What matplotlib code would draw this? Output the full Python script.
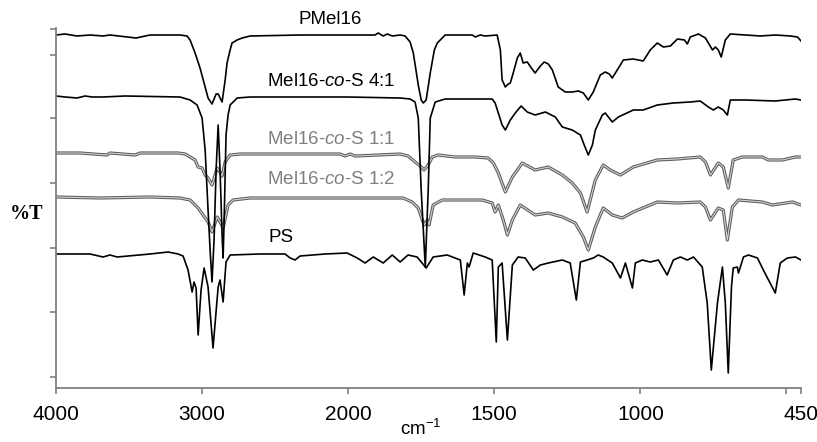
import numpy as np
import matplotlib
matplotlib.use("Agg")
import matplotlib.pyplot as plt
import matplotlib.patheffects as pe

plt.rcParams['font.family'] = ['Liberation Sans', 'DejaVu Sans']
plt.rcParams['mathtext.fontset'] = 'custom'
plt.rcParams['mathtext.rm'] = 'Liberation Sans'
plt.rcParams['mathtext.it'] = 'Liberation Sans:italic'

# spectra: (wavenumber cm-1, %T with arbitrary offsets)
pmel16 = [(4000, 353), (3938, 354), (3856, 352), (3767, 353), (3678, 352), (3630, 353), (3452, 350),
          (3356, 353), (3151, 353), (3103, 352), (3082, 348), (3048, 335), (3014, 320), (2979, 301),
          (2959, 290), (2932, 284), (2904, 294), (2890, 294), (2863, 286), (2842, 308), (2829, 325),
          (2808, 338), (2795, 345), (2760, 348), (2726, 350), (2671, 352), (2329, 353), (2007, 353),
          (1908, 353), (1897, 355), (1880, 352), (1866, 354), (1849, 352), (1822, 353), (1805, 352),
          (1788, 346), (1777, 335), (1760, 303), (1750, 288), (1743, 285), (1733, 288), (1719, 315),
          (1705, 338), (1695, 345), (1668, 353), (1575, 353), (1565, 351), (1548, 353), (1531, 352),
          (1490, 353), (1479, 338), (1473, 308), (1462, 301), (1452, 304), (1445, 305), (1435, 315),
          (1421, 330), (1411, 335), (1401, 325), (1387, 326), (1373, 320), (1360, 315), (1342, 322),
          (1329, 326), (1315, 324), (1301, 318), (1281, 301), (1257, 296), (1233, 296), (1212, 297),
          (1195, 295), (1178, 288), (1161, 296), (1137, 313), (1120, 316), (1106, 314), (1096, 310),
          (1079, 318), (1058, 328), (1024, 329), (990, 327), (966, 338), (942, 345), (921, 341),
          (897, 342), (873, 349), (849, 348), (839, 344), (829, 351), (801, 354), (777, 350),
          (753, 338), (743, 341), (733, 338), (723, 331), (709, 348), (692, 354), (640, 353),
          (589, 352), (538, 353), (486, 352), (462, 351), (450, 347)]

co_4_1 = [(4000, 292), (3938, 291), (3856, 290), (3801, 292), (3753, 291), (3678, 291), (3527, 292),
          (3151, 291), (3082, 288), (3034, 283), (3000, 270), (2979, 238), (2959, 178), (2945, 138),
          (2932, 106), (2918, 148), (2904, 218), (2890, 263), (2877, 218), (2863, 153), (2856, 130),
          (2849, 168), (2836, 253), (2822, 273), (2808, 283), (2760, 290), (2671, 291), (2329, 291),
          (2007, 291), (1822, 290), (1788, 289), (1771, 286), (1760, 270), (1750, 198), (1736, 121),
          (1726, 198), (1719, 270), (1702, 286), (1668, 289), (1582, 289), (1507, 289), (1497, 285),
          (1486, 275), (1473, 263), (1462, 258), (1445, 268), (1428, 275), (1408, 282), (1387, 276),
          (1360, 273), (1325, 276), (1291, 271), (1267, 261), (1233, 258), (1205, 253), (1192, 243),
          (1178, 233), (1164, 243), (1154, 258), (1130, 273), (1120, 275), (1096, 266), (1075, 271),
          (1024, 278), (990, 278), (942, 283), (887, 285), (829, 286), (795, 287), (767, 281),
          (750, 278), (733, 281), (716, 278), (702, 273), (692, 288), (640, 288), (538, 287),
          (469, 289), (450, 288)]

co_1_1 = [(4000, 235), (3836, 235), (3651, 233), (3630, 235), (3459, 233), (3425, 235), (3164, 235),
          (3116, 234), (3082, 231), (3048, 228), (3027, 221), (3000, 220), (2979, 213), (2959, 210),
          (2932, 203), (2911, 213), (2897, 220), (2877, 216), (2863, 212), (2842, 226), (2808, 233),
          (2740, 234), (2055, 234), (2021, 232), (1993, 234), (1976, 232), (1822, 234), (1795, 232),
          (1771, 226), (1753, 222), (1740, 218), (1726, 223), (1712, 231), (1692, 233), (1634, 231),
          (1565, 231), (1521, 230), (1503, 225), (1486, 215), (1462, 196), (1438, 211), (1404, 225),
          (1360, 218), (1315, 221), (1267, 213), (1233, 205), (1205, 195), (1182, 176), (1154, 208),
          (1127, 223), (1103, 218), (1068, 213), (1024, 221), (942, 228), (873, 229), (795, 231),
          (777, 226), (760, 213), (733, 225), (716, 221), (699, 200), (682, 228), (651, 231),
          (582, 231), (562, 228), (514, 228), (469, 231), (450, 231)]

co_1_2 = [(4000, 191), (3699, 190), (3356, 191), (3151, 190), (3082, 188), (3027, 180), (2993, 173),
          (2959, 166), (2932, 156), (2897, 171), (2877, 166), (2856, 160), (2822, 183), (2788, 188),
          (2671, 190), (1812, 190), (1781, 186), (1760, 180), (1740, 163), (1729, 168), (1723, 163),
          (1709, 183), (1678, 188), (1541, 188), (1507, 185), (1497, 176), (1486, 183), (1469, 168),
          (1455, 153), (1438, 168), (1411, 183), (1360, 173), (1315, 175), (1267, 171), (1223, 165),
          (1195, 151), (1178, 138), (1154, 161), (1127, 180), (1096, 173), (1062, 170), (1024, 176),
          (942, 186), (873, 185), (795, 186), (777, 181), (760, 168), (733, 180), (716, 178),
          (702, 148), (685, 181), (664, 188), (582, 186), (548, 183), (479, 186), (450, 183)]

ps = [(4000, 134), (3767, 134), (3678, 131), (3630, 133), (3582, 131), (3356, 134), (3233, 136),
      (3164, 134), (3130, 132), (3096, 118), (3068, 96), (3055, 106), (3041, 100), (3027, 53),
      (3007, 98), (2986, 120), (2959, 101), (2925, 40), (2890, 101), (2877, 108), (2856, 86),
      (2836, 126), (2808, 133), (2603, 134), (2432, 134), (2397, 130), (2363, 128), (2329, 132),
      (2158, 134), (2007, 135), (1969, 130), (1942, 125), (1914, 131), (1880, 125), (1849, 133),
      (1822, 126), (1795, 133), (1764, 131), (1733, 120), (1709, 131), (1661, 133), (1616, 128),
      (1603, 93), (1592, 125), (1586, 121), (1572, 135), (1531, 131), (1507, 128), (1493, 46),
      (1486, 121), (1473, 125), (1455, 48), (1438, 123), (1418, 131), (1394, 130), (1366, 118),
      (1342, 123), (1315, 125), (1267, 128), (1240, 125), (1219, 88), (1205, 126), (1182, 128),
      (1161, 130), (1144, 133), (1127, 131), (1096, 125), (1068, 110), (1051, 125), (1027, 100),
      (1017, 125), (993, 128), (966, 126), (938, 128), (908, 113), (887, 128), (863, 131),
      (839, 128), (818, 131), (788, 121), (771, 85), (757, 18), (736, 85), (719, 121), (709, 85),
      (699, 15), (688, 101), (682, 120), (668, 121), (664, 115), (647, 131), (630, 133),
      (599, 130), (579, 118), (538, 95), (521, 125), (497, 130), (469, 131), (450, 128)]

xticks = [4000, 3000, 2000, 1500, 1000, 500, 450]
xticklabels = ['4000', '3000', '2000', '1500', '1000', '', '450']
yticks = [11, 76, 140, 205, 270, 333, 359]


def fwd(x):
    x = np.asarray(x, dtype=float)
    return np.where(x > 2000, 1000 + x / 2, x)


def inv(t):
    t = np.asarray(t, dtype=float)
    return np.where(t > 2000, (t - 1000) * 2, t)


fig = plt.figure(figsize=(8.17, 4.42), dpi=100)
ax = fig.add_axes([56 / 817, 54 / 442, 745 / 817, 360 / 442])
ax.set_xscale('function', functions=(fwd, inv))

black = dict(color='black', lw=1.2)
outlined = dict(color='#d2d2d2', lw=0.8,
                path_effects=[pe.Stroke(linewidth=2.3, foreground='#5c5c5c'), pe.Normal()])

for data, style in [(ps, black), (co_1_2, outlined), (co_1_1, outlined), (co_4_1, black), (pmel16, black)]:
    wn, t = zip(*data)
    ax.plot(wn, t, **style)

ax.set_xlim(4000, 450)
ax.set_ylim(0, 360)
ax.set_xticks(xticks)
ax.set_xticklabels(xticklabels, fontsize=15)
ax.set_yticks(yticks)
ax.set_yticklabels([])
ax.xaxis.set_minor_locator(matplotlib.ticker.NullLocator())

for s in ['top', 'right']:
    ax.spines[s].set_visible(False)
for s in ['left', 'bottom']:
    ax.spines[s].set_color('#808080')
    ax.spines[s].set_linewidth(1.3)
ax.tick_params(direction='out', length=4, width=1.2, color='#808080', pad=8)

fig.text(330 / 817, 1 - 20 / 442, 'PMel16', fontsize=13.5, ha='center', va='center')
fig.text(331 / 817, 1 - 82 / 442, r'Mel16-$\mathit{co}$-S 4:1', fontsize=13.5, ha='center', va='center')
fig.text(331 / 817, 1 - 140 / 442, r'Mel16-$\mathit{co}$-S 1:1', fontsize=13.5, ha='center', va='center',
         color='#808080')
fig.text(331 / 817, 1 - 180 / 442, r'Mel16-$\mathit{co}$-S 1:2', fontsize=13.5, ha='center', va='center',
         color='#808080')
fig.text(281 / 817, 1 - 237 / 442, 'PS', fontsize=13.5, ha='center', va='center')
fig.text(27 / 817, 1 - 214 / 442, '%T', fontsize=14.5, ha='center', va='center',
         family='Liberation Serif', weight='bold')
fig.text(421 / 817, 3 / 442, r'cm$^{\mathrm{-1}}$', fontsize=13.5, ha='center', va='bottom')

fig.savefig('out.png', dpi=100)
